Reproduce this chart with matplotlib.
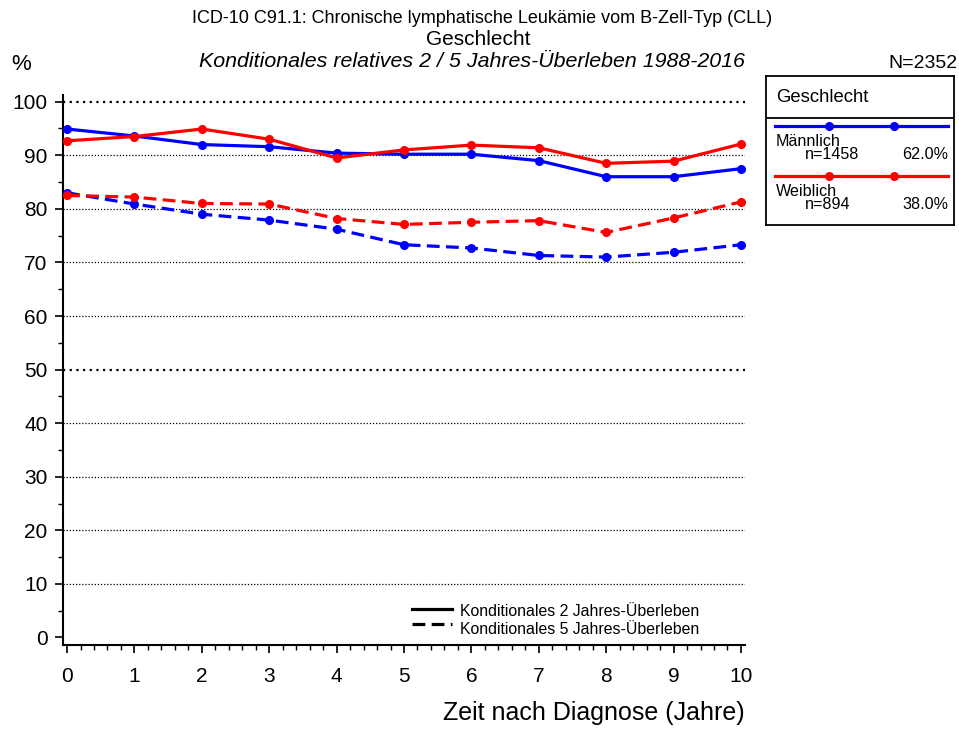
"""
conditional relative 2 / 5 year survival by sex, CLL
"""

import numpy as np
from matplotlib import pyplot as plt

plt.rcParams['font.family'] = ['Liberation Sans', 'DejaVu Sans']

# data
years = [0, 1, 2, 3, 4, 5, 6, 7, 8, 9, 10]
male_2y = [94.9, 93.6, 92.0, 91.6, 90.4, 90.2, 90.2, 89.0, 86.0, 86.0, 87.5]
female_2y = [92.7, 93.5, 94.9, 93.0, 89.5, 91.0, 91.9, 91.4, 88.5, 88.9, 92.1]
male_5y = [83.0, 80.9, 79.0, 77.9, 76.2, 73.3, 72.7, 71.3, 71.0, 71.9, 73.3]
female_5y = [82.5, 82.2, 81.0, 80.9, 78.2, 77.1, 77.5, 77.8, 75.6, 78.3, 81.3]

groups = ['Männlich', 'Weiblich']
group_n = [1458, 894]
group_pct = ['62.0%', '38.0%']
colors = ['#0000ff', '#ff0000']
N_total = 2352

W, H = 959, 729
fig = plt.figure(figsize=(W / 100, H / 100), dpi=100)

def fx(px):
    return px / W

def fy(py):
    return 1 - py / H

ax = fig.add_axes([fx(63), fy(645), fx(745) - fx(63), fy(95) - fy(645)])
ax.set_xlim(-0.06, 10.06)
ax.set_ylim(-1.4, 101.25)

# dotted grid, 50 and 100 a bit heavier
for g in range(10, 101, 10):
    if g in (50, 100):
        ax.axhline(g, color='k', ls=(0, (1, 2)), lw=1.6, zorder=1)
    else:
        ax.axhline(g, color='k', ls=(0, (1, 1.5)), lw=0.9, zorder=1)

ls2 = '-'
ls5 = (0, (4, 2))
kw = dict(lw=2.3, marker='o', ms=5.5, zorder=3)
ax.plot(years, male_2y, color=colors[0], ls=ls2, **kw)
ax.plot(years, female_2y, color=colors[1], ls=ls2, **kw)
ax.plot(years, male_5y, color=colors[0], ls=ls5, **kw)
ax.plot(years, female_5y, color=colors[1], ls=ls5, **kw)

for s in ['top', 'right']:
    ax.spines[s].set_visible(False)
ax.spines['left'].set_linewidth(1.5)
ax.spines['bottom'].set_linewidth(1.5)

ax.set_xticks(range(0, 11))
ax.set_xticks(np.arange(0, 10.01, 0.2), minor=True)
ax.set_yticks(range(0, 101, 10))
ax.set_yticks(range(5, 100, 10), minor=True)
ax.tick_params(axis='both', which='major', direction='out', length=6, width=1.2,
               labelsize=15, pad=5)
ax.tick_params(axis='both', which='minor', direction='out', length=3.5, width=1)
ax.tick_params(axis='x', pad=10)

# line style legend inside the plot
fig.lines.append(plt.Line2D([fx(412), fx(452)], [fy(609), fy(609)], color='k', lw=2.3,
                            transform=fig.transFigure))
fig.lines.append(plt.Line2D([fx(412), fx(452)], [fy(624), fy(624)], color='k', lw=2.3,
                            ls=(0, (4, 2)), transform=fig.transFigure))
fig.text(fx(460), fy(612), 'Konditionales 2 Jahres-Überleben', fontsize=11.4, va='center')
fig.text(fx(460), fy(629), 'Konditionales 5 Jahres-Überleben', fontsize=11.4, va='center')

# titles
fig.text(fx(482), fy(23), 'ICD-10 C91.1: Chronische lymphatische Leukämie vom B-Zell-Typ (CLL)',
         ha='center', va='baseline', fontsize=13)
fig.text(fx(478), fy(45), 'Geschlecht', ha='center', va='baseline', fontsize=15)
fig.text(fx(472), fy(67), 'Konditionales relatives 2 / 5 Jahres-Überleben 1988-2016',
         ha='center', va='baseline', fontsize=15.4, style='italic')
fig.text(fx(11), fy(70), '%', ha='left', va='baseline', fontsize=16)
fig.text(fx(957), fy(68), 'N=%d' % N_total, ha='right', va='baseline', fontsize=14)
fig.text(fx(745), fy(720), 'Zeit nach Diagnose (Jahre)', ha='right', va='baseline', fontsize=18)

# group legend box
bx = fig.add_axes([fx(766), fy(225), fx(954) - fx(766), fy(76) - fy(225)])
bx.set_xlim(766, 954)
bx.set_ylim(225, 76)
bx.set_xticks([])
bx.set_yticks([])
for s in bx.spines.values():
    s.set_linewidth(1.3)
bx.axhline(118, color='k', lw=1.3)
bx.text(776, 102, 'Geschlecht', fontsize=13.3, va='baseline')
for i, (name, n, pct, c) in enumerate(zip(groups, group_n, group_pct, colors)):
    y0 = 126 + i * 50
    bx.plot([775, 948], [y0, y0], color=c, lw=2.3)
    bx.plot([829, 894], [y0, y0], color=c, ls='none', marker='o', ms=5.5)
    bx.text(776, y0 + 20, name, fontsize=11.6, va='baseline')
    bx.text(805, y0 + 33, 'n=%d' % n, fontsize=11.6, va='baseline')
    bx.text(948, y0 + 33, pct, fontsize=11.6, va='baseline', ha='right')

fig.savefig('out.png', dpi=100)
